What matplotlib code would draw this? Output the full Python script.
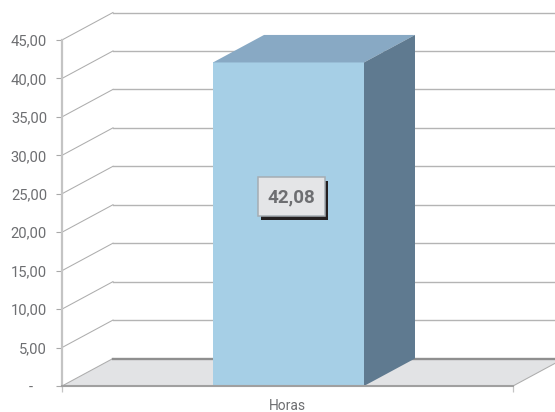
import matplotlib
matplotlib.use('Agg')
import matplotlib.pyplot as plt
from matplotlib.patches import Polygon, Rectangle

categories = ['Horas']
values = [42.08]
value_labels = ['42,08']
y_ticks = [0, 5, 10, 15, 20, 25, 30, 35, 40, 45]
y_labels = ['-', '5,00', '10,00', '15,00', '20,00', '25,00', '30,00', '35,00', '40,00', '45,00']

W, H = 555, 412
plt.rcParams['font.family'] = ['Roboto', 'DejaVu Sans']
plt.rcParams['font.stretch'] = 'condensed'

fig = plt.figure(figsize=(W / 100, H / 100), dpi=100)
ax = fig.add_axes([62 / W, 1 - 386 / H, 451 / W, 346 / H])
ax.set_xlim(0, 1)
ax.set_ylim(0, 45)

# depth of the fake 3d, in data units
dx = 51 / 451
dy = 27.5 / (346 / 45)

grid_c = '#b4b4b4'
text_c = '#6d6e71'

# floor
ax.add_patch(Polygon([(0, 0), (1, 0), (1 + dx, dy), (dx, dy)], closed=True,
                     facecolor='#e2e3e5', edgecolor='none', clip_on=False, zorder=1))

# gridlines, slanted part then back wall part
for t in y_ticks:
    ax.plot([0, dx], [t, t + dy], color='#adadad', lw=0.75, clip_on=False, zorder=2)
    ax.plot([dx, 1 + dx], [t + dy, t + dy], color='#8f8f8f' if t == 0 else grid_c,
            lw=1.7 if t == 0 else 1.0, clip_on=False, zorder=2)
ax.plot([1, 1 + dx], [0, dy], color='#adadad', lw=0.75, clip_on=False, zorder=2)

# bar
left = 151 / 451
right = 302 / 451
v = values[0]
ax.bar([(left + right) / 2], [v], width=right - left, color='#a6cfe6', zorder=3)
ax.add_patch(Polygon([(left, v), (right, v), (right + dx, v + dy), (left + dx, v + dy)],
                     closed=True, facecolor='#88a9c4', edgecolor='none', clip_on=False, zorder=3))
ax.add_patch(Polygon([(right, 0), (right + dx, dy), (right + dx, v + dy), (right, v)],
                     closed=True, facecolor='#5f7a90', edgecolor='none', clip_on=False, zorder=3))

# value label with hard shadow
bx, by, bw, bh = 258, 177, 67, 39
fig.add_artist(Rectangle(((bx + 3) / W, 1 - (by + bh + 4) / H), bw / W, bh / H, transform=fig.transFigure,
                         facecolor='#231f20', edgecolor='none', zorder=5))
fig.add_artist(Rectangle((bx / W, 1 - (by + bh) / H), bw / W, bh / H, transform=fig.transFigure,
                         facecolor='#e4e5e7', edgecolor='#a5adb3', lw=1.1, zorder=6))
fig.text((bx + bw / 2) / W, 1 - (by + bh / 2 + 0.5) / H, value_labels[0], ha='center', va='center',
         fontsize=13.5, fontweight='bold', color=text_c, zorder=7)

# axes
for s in ['top', 'right']:
    ax.spines[s].set_visible(False)
ax.spines['left'].set_color('#c4c4c4')
ax.spines['left'].set_linewidth(1.6)
ax.spines['bottom'].set_color('#a0a0a0')
ax.spines['bottom'].set_linewidth(1.5)
ax.spines['left'].set_zorder(2.5)
ax.spines['bottom'].set_zorder(4)

ax.set_yticks(y_ticks)
ax.set_yticklabels(y_labels)
ax.tick_params(axis='y', length=4.3, width=0.8, color='#a8a8a8', pad=6.5, labelsize=10.6, labelcolor=text_c)
# the "-" for zero sits further left than the numbers
ax.yaxis.get_major_ticks()[0].set_pad(17)

ax.set_xticks([0, 1])
ax.set_xticklabels(['', ''])
ax.tick_params(axis='x', which='major', length=4.3, width=0.9, color='#c4c4c4')
ax.set_xticks([0.5], minor=True)
ax.set_xticklabels(categories, minor=True)
ax.tick_params(axis='x', which='minor', length=0, pad=9.5, labelsize=10, labelcolor=text_c)

fig.savefig('out.png', dpi=100)
